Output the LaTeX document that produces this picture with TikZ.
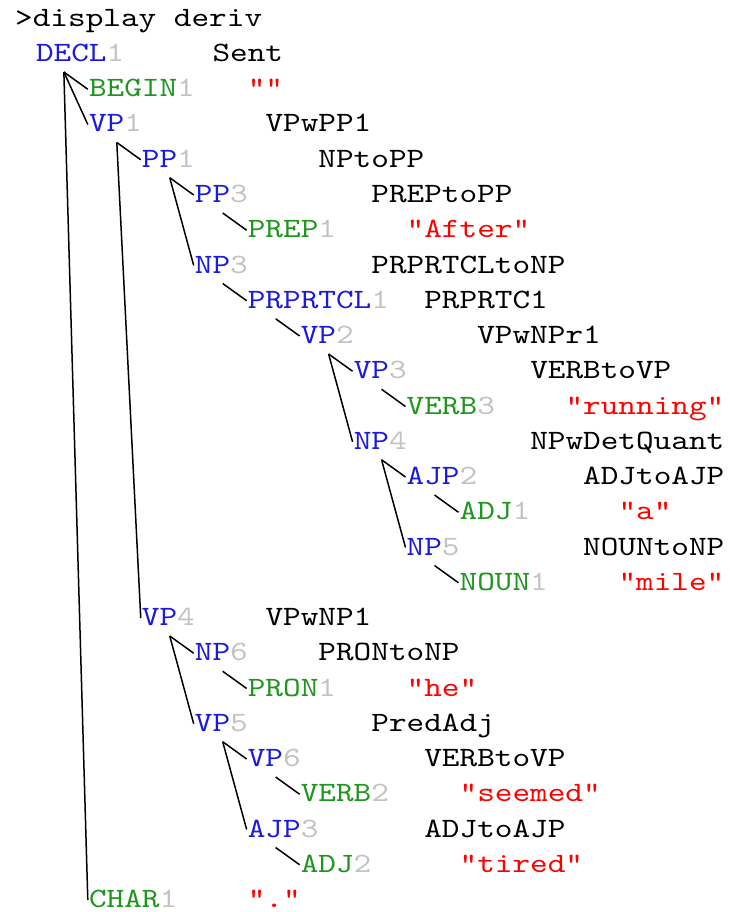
\documentclass[tikz,border=0pt]{standalone}
\usepackage{fontspec}
\newfontfamily\monofnt[FakeStretch=1.2]{lmmono10-regular.otf}
\definecolor{ntblue}{RGB}{25,25,225}
\definecolor{ptgreen}{RGB}{30,150,30}
\definecolor{idxgray}{RGB}{195,195,195}
\definecolor{termred}{RGB}{255,0,0}
\newcommand\NT[2]{\textcolor{ntblue}{#1}\textcolor{idxgray}{#2}}
\newcommand\PT[2]{\textcolor{ptgreen}{#1}\textcolor{idxgray}{#2}}
\tikzset{
  lbl/.style={font=\monofnt\fontsize{28}{34}\selectfont, inner sep=0pt, anchor=west, text height=17pt, text depth=0pt},
  rulelbl/.style={lbl, text=black},
  termlbl/.style={lbl, text=termred},
  edge/.style={line width=1.5pt, black},
}
\begin{document}
\begin{tikzpicture}
\useasboundingbox (0pt,0pt) rectangle (730pt,-912pt);
\node[rulelbl] (title) at (15pt,-17.7pt) {>display deriv};
\begin{scope}[shift={(18.2pt,-53pt)}, x=17.65pt, y=-35.25pt]
% tree nodes
\node[lbl] (decl)     at (1,0)  {\NT{DECL}{1}};
\node[lbl] (begin)    at (4,1)  {\PT{BEGIN}{1}};
\node[lbl] (vp1)      at (4,2)  {\NT{VP}{1}};
\node[lbl] (pp1)      at (7,3)  {\NT{PP}{1}};
\node[lbl] (pp3)      at (10,4) {\NT{PP}{3}};
\node[lbl] (prep1)    at (13,5) {\PT{PREP}{1}};
\node[lbl] (np3)      at (10,6) {\NT{NP}{3}};
\node[lbl] (prprtcl1) at (13,7) {\NT{PRPRTCL}{1}};
\node[lbl] (vp2)      at (16,8) {\NT{VP}{2}};
\node[lbl] (vp3)      at (19,9) {\NT{VP}{3}};
\node[lbl] (verb3)    at (22,10) {\PT{VERB}{3}};
\node[lbl] (np4)      at (19,11) {\NT{NP}{4}};
\node[lbl] (ajp2)     at (22,12) {\NT{AJP}{2}};
\node[lbl] (adj1)     at (25,13) {\PT{ADJ}{1}};
\node[lbl] (np5)      at (22,14) {\NT{NP}{5}};
\node[lbl] (noun1)    at (25,15) {\PT{NOUN}{1}};
\node[lbl] (vp4)      at (7,16) {\NT{VP}{4}};
\node[lbl] (np6)      at (10,17) {\NT{NP}{6}};
\node[lbl] (pron1)    at (13,18) {\PT{PRON}{1}};
\node[lbl] (vp5)      at (10,19) {\NT{VP}{5}};
\node[lbl] (vp6)      at (13,20) {\NT{VP}{6}};
\node[lbl] (verb2)    at (16,21) {\PT{VERB}{2}};
\node[lbl] (ajp3)     at (13,22) {\NT{AJP}{3}};
\node[lbl] (adj2)     at (16,23) {\PT{ADJ}{2}};
\node[lbl] (char1)    at (4,24) {\PT{CHAR}{1}};
% rule / terminal labels
\node[rulelbl] (l-decl)     at (11,0)  {Sent};
\node[termlbl] (l-begin)    at (13,1)  {""};
\node[rulelbl] (l-vp1)      at (14,2)  {VPwPP1};
\node[rulelbl] (l-pp1)      at (17,3)  {NPtoPP};
\node[rulelbl] (l-pp3)      at (20,4)  {PREPtoPP};
\node[termlbl] (l-prep1)    at (22,5)  {"After"};
\node[rulelbl] (l-np3)      at (20,6)  {PRPRTCLtoNP};
\node[rulelbl] (l-prprtcl1) at (23,7)  {PRPRTC1};
\node[rulelbl] (l-vp2)      at (26,8)  {VPwNPr1};
\node[rulelbl] (l-vp3)      at (29,9)  {VERBtoVP};
\node[termlbl] (l-verb3)    at (31,10) {"running"};
\node[rulelbl] (l-np4)      at (29,11) {NPwDetQuant};
\node[rulelbl] (l-ajp2)     at (32,12) {ADJtoAJP};
\node[termlbl] (l-adj1)     at (34,13) {"a"};
\node[rulelbl] (l-np5)      at (32,14) {NOUNtoNP};
\node[termlbl] (l-noun1)    at (34,15) {"mile"};
\node[rulelbl] (l-vp4)      at (14,16) {VPwNP1};
\node[rulelbl] (l-np6)      at (17,17) {PRONtoNP};
\node[termlbl] (l-pron1)    at (22,18) {"he"};
\node[rulelbl] (l-vp5)      at (20,19) {PredAdj};
\node[rulelbl] (l-vp6)      at (23,20) {VERBtoVP};
\node[termlbl] (l-verb2)    at (25,21) {"seemed"};
\node[rulelbl] (l-ajp3)     at (23,22) {ADJtoAJP};
\node[termlbl] (l-adj2)     at (25,23) {"tired"};
\node[termlbl] (l-char1)    at (13,24) {"."};
\end{scope}
% fan-out anchors under each parent
\foreach \p in {decl,vp1,pp1,pp3,np3,prprtcl1,vp2,vp3,np4,ajp2,np5,vp4,np6,vp5,vp6,ajp3}
  \coordinate (\p-a) at ([shift={(28pt,-19pt)}]\p.west);
% connectors
\foreach \p/\c in {decl/begin,decl/vp1,decl/char1,
                   vp1/pp1,vp1/vp4,
                   pp1/pp3,pp1/np3,
                   pp3/prep1,
                   np3/prprtcl1,
                   prprtcl1/vp2,
                   vp2/vp3,vp2/np4,
                   vp3/verb3,
                   np4/ajp2,np4/np5,
                   ajp2/adj1,
                   np5/noun1,
                   vp4/np6,vp4/vp5,
                   np6/pron1,
                   vp5/vp6,vp5/ajp3,
                   vp6/verb2,
                   ajp3/adj2}
  \draw[edge] (\p-a) -- ([shift={(-1pt,-1pt)}]\c.west);
\end{tikzpicture}
\end{document}
